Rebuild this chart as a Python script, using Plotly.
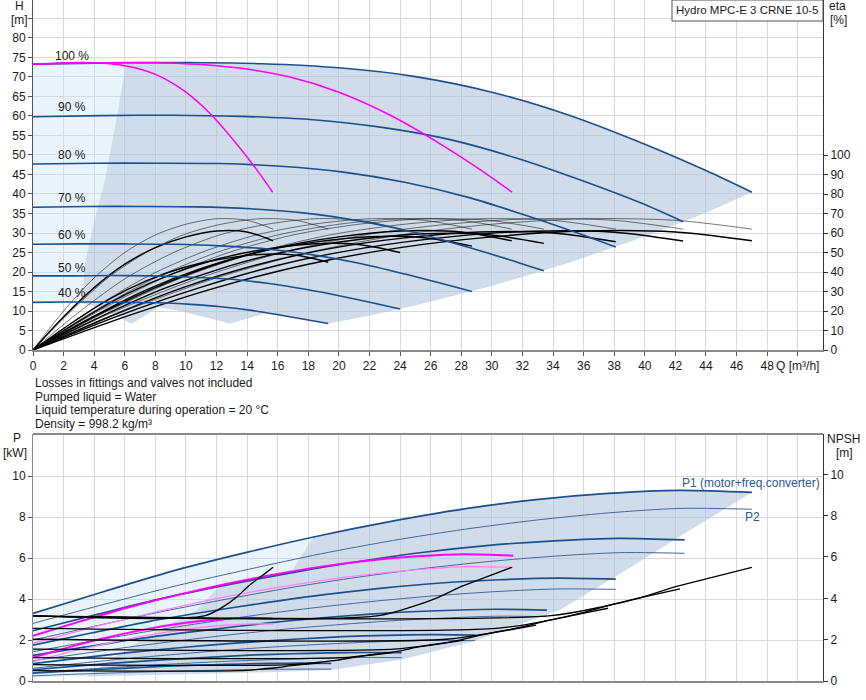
import plotly.graph_objects as go

W, H = 866, 700
FONT = "Liberation Sans, Arial, sans-serif"

# ---------------- Top chart: Q-H curves of 3 pumps at 100 % ... 40 % speed ----------------
QH_Q_100 = [0, 5, 10, 15, 20, 25, 30, 35, 40, 44, 47]
QH_H_100 = [73.3, 73.6, 73.7, 73.4, 72.35, 70.1, 66.1, 60.25, 52.75, 46.0, 40.45]
QH_Q_90 = [0, 4.5, 9.1, 13.6, 18.1, 22.6, 27.2, 31.7, 36.2, 39.8, 42.5]
QH_H_90 = [59.8, 60.1, 60.2, 59.9, 59.1, 57.2, 54.0, 49.1, 43.0, 37.6, 32.9]
QH_Q_80 = [0, 4.1, 8.1, 12.2, 16.2, 20.3, 24.3, 28.4, 32.4, 35.6, 38.1]
QH_H_80 = [47.7, 47.9, 47.9, 47.8, 47.1, 45.6, 43.0, 39.2, 34.3, 30.0, 26.4]
QH_Q_70 = [0, 3.6, 7.1, 10.7, 14.2, 17.8, 21.3, 24.9, 28.4, 31.2, 33.4]
QH_H_70 = [36.6, 36.8, 36.8, 36.7, 36.2, 35.1, 33.1, 30.2, 26.4, 23.1, 20.3]
QH_Q_60 = [0, 3.1, 6.1, 9.2, 12.2, 15.3, 18.3, 21.4, 24.4, 26.8, 28.7]
QH_H_60 = [27.1, 27.2, 27.2, 27.1, 26.7, 25.9, 24.4, 22.2, 19.4, 17.0, 15.0]
QH_Q_50 = [0, 2.6, 5.1, 7.7, 10.2, 12.8, 15.3, 17.9, 20.4, 22.4, 24.0]
QH_H_50 = [19.0, 19.0, 19.1, 19.0, 18.7, 18.2, 17.1, 15.5, 13.6, 11.9, 10.5]
QH_Q_40 = [0, 2.1, 4.1, 6.2, 8.2, 10.3, 12.3, 14.4, 16.4, 18.0, 19.3]
QH_H_40 = [12.2, 12.3, 12.3, 12.2, 12.1, 11.7, 11.1, 10.1, 8.8, 7.7, 6.8]
SPEED_LABELS = ["100 %", "90 %", "80 %", "70 %", "60 %", "50 %", "40 %"]

# 1 pump and 2 pumps at 100 % (magenta)
QH_Q_1P = [0, 1.67, 3.33, 5, 6.67, 8.33, 10, 11.67, 13.33, 14.67, 15.67]
QH_Q_2P = [0, 3.33, 6.67, 10, 13.33, 16.67, 20, 23.33, 26.67, 29.33, 31.33]
QH_H_1P2P = [73.3, 73.6, 73.7, 73.4, 72.35, 70.1, 66.1, 60.25, 52.75, 46.0, 40.45]

# Efficiency curves (eta axis): thin = pump, thick = total
ETA_PUMP = [0, 20, 37, 50, 59, 64.5, 67.3, 66.5, 62]
ETA_TOT_100 = [0, 17, 32, 44, 52.5, 58, 61, 60.5, 56]
ETA_TOT_90 = [0, 17, 32, 44, 52.4, 57.9, 60.9, 60.4, 55.9]
ETA_TOT_80 = [0, 16.8, 31.7, 43.6, 52, 57.5, 60.5, 60, 55.5]
ETA_TOT_70 = [0, 16.6, 31.3, 43, 51.3, 56.7, 59.6, 59.1, 54.7]
ETA_TOT_60 = [0, 16.2, 30.5, 41.9, 50, 55.2, 58.1, 57.6, 53.3]
ETA_TOT_50 = [0, 15.2, 28.6, 39.3, 46.9, 51.8, 54.5, 54, 50]
ETA_TOT_40 = [0, 13.7, 25.7, 35.4, 42.2, 46.6, 49, 48.6, 45]
EQ_3P100 = [0, 6, 12, 18, 24, 30, 36, 42, 47]
EQ_3P90 = [0, 5.4, 10.9, 16.3, 21.7, 27.1, 32.6, 38, 42.5]
EQ_3P80 = [0, 4.9, 9.7, 14.6, 19.4, 24.3, 29.2, 34, 38.1]
EQ_3P70 = [0, 4.3, 8.5, 12.8, 17, 21.3, 25.6, 29.8, 33.4]
EQ_3P60 = [0, 3.7, 7.3, 11, 14.6, 18.3, 22, 25.6, 28.7]
EQ_3P50 = [0, 3.1, 6.1, 9.2, 12.2, 15.3, 18.4, 21.4, 24]
EQ_3P40 = [0, 2.5, 4.9, 7.4, 9.8, 12.3, 14.8, 17.2, 19.3]
EQ_2P100 = [0, 4, 8, 12, 16, 20, 24, 28, 31.3]
EQ_1P100 = [0, 2, 4, 6, 8, 10, 12, 14, 15.7]

# Operating-range shading, top chart
TOP_LIGHT_Q = [0, 0, 5, 6.1, 5.4, 4.7, 4.0, 3.4, 3.25, 3.15, 0]
TOP_LIGHT_H = [12.2, 73.3, 73.6, 73.6, 58, 43.6, 33, 22.2, 15, 11.9, 12.2]
TOP_DARK_Q = [6.1, 10, 15, 20, 25, 30, 35, 40, 44, 47,
              44, 40, 35, 30, 25, 22, 19.3,
              18, 16.4, 15.25, 14, 12.85,
              12.0, 10.9, 9.6, 8.2, 7.5, 6.8, 6.42,
              6.0, 5.47, 4.78, 4.1, 3.42, 3.15,
              3.25, 3.4, 4.0, 4.7, 5.4, 6.1]
TOP_DARK_H = [73.6, 73.7, 73.4, 72.35, 70.1, 66.1, 60.25, 52.75, 46.0, 40.45,
              35.2, 29.1, 22.3, 16.4, 11.4, 8.8, 6.8,
              7.7, 8.8, 9.5, 8.0, 6.75,
              7.7, 8.8, 10.0, 11.05, 9.2, 7.57, 6.75,
              7.74, 8.82, 10.05, 11.09, 11.74, 11.9,
              15, 22.2, 33, 43.6, 58, 73.6]

# ---------------- Bottom chart: power P1 / P2 (3 pumps), NPSH ----------------
PQ_100 = [0, 4.7, 9.4, 14.1, 18.8, 23.5, 28.2, 32.9, 37.6, 42.3, 47]
PQ_90 = [0, 4.26, 8.52, 12.78, 17.04, 21.3, 25.56, 29.82, 34.08, 38.34, 42.6]
PQ_80 = [0, 3.81, 7.62, 11.43, 15.24, 19.05, 22.86, 26.67, 30.48, 34.29, 38.1]
PQ_70 = [0, 3.36, 6.72, 10.08, 13.44, 16.8, 20.16, 23.52, 26.88, 30.24, 33.6]
PQ_60 = [0, 2.89, 5.78, 8.67, 11.56, 14.45, 17.34, 20.23, 23.12, 26.01, 28.9]
PQ_50 = [0, 2.41, 4.82, 7.23, 9.64, 12.05, 14.46, 16.87, 19.28, 21.69, 24.1]
PQ_40 = [0, 1.95, 3.9, 5.85, 7.8, 9.75, 11.7, 13.65, 15.6, 17.55, 19.5]
PQ_2P = [0, 3.14, 6.28, 9.42, 12.56, 15.7, 18.84, 21.98, 25.12, 28.26, 31.4]
PQ_1P = [0, 1.57, 3.14, 4.71, 6.28, 7.85, 9.42, 10.99, 12.56, 14.13, 15.7]

P1_100 = [3.3, 4.38, 5.42, 6.3, 7.1, 7.8, 8.4, 8.85, 9.15, 9.3, 9.2]
P1_90 = [2.45, 3.26, 4.04, 4.70, 5.30, 5.83, 6.28, 6.62, 6.84, 6.96, 6.88]
P1_80 = [1.75, 2.34, 2.91, 3.39, 3.82, 4.21, 4.53, 4.78, 4.94, 5.02, 4.97]
P1_70 = [1.25, 1.65, 2.04, 2.37, 2.67, 2.94, 3.16, 3.33, 3.44, 3.5, 3.46]
P1_60 = [0.85, 1.10, 1.35, 1.56, 1.75, 1.91, 2.05, 2.16, 2.23, 2.26, 2.24]
P1_50 = [0.55, 0.70, 0.85, 0.97, 1.08, 1.18, 1.27, 1.33, 1.37, 1.39, 1.38]
P1_40 = [0.38, 0.47, 0.55, 0.62, 0.69, 0.75, 0.79, 0.83, 0.86, 0.87, 0.86]
P2_100 = [2.81, 3.75, 4.65, 5.45, 6.2, 6.85, 7.4, 7.85, 8.2, 8.42, 8.38]
P2_90 = [2.0, 2.71, 3.40, 4.01, 4.58, 5.07, 5.49, 5.83, 6.09, 6.26, 6.23]
P2_80 = [1.43, 1.94, 2.43, 2.87, 3.28, 3.63, 3.93, 4.18, 4.37, 4.49, 4.47]
P2_70 = [0.99, 1.35, 1.70, 2.01, 2.30, 2.55, 2.76, 2.94, 3.07, 3.16, 3.14]
P2_60 = [0.62, 0.85, 1.07, 1.26, 1.44, 1.60, 1.73, 1.84, 1.93, 1.98, 1.97]
P2_50 = [0.4, 0.53, 0.64, 0.75, 0.85, 0.94, 1.01, 1.07, 1.12, 1.15, 1.14]
P2_40 = [0.25, 0.31, 0.36, 0.41, 0.45, 0.49, 0.52, 0.55, 0.57, 0.58, 0.58]
P1_2P = [2.2, 2.92, 3.60, 4.19, 4.72, 5.18, 5.58, 5.88, 6.08, 6.18, 6.11]
P2_2P = [1.84, 2.47, 3.06, 3.60, 4.10, 4.53, 4.90, 5.20, 5.43, 5.58, 5.55]
P1_1P = [1.14, 1.48, 1.81, 2.10, 2.36, 2.59, 2.78, 2.93, 3.03, 3.08, 3.05]
P2_1P = [0.94, 1.25, 1.55, 1.81, 2.06, 2.27, 2.46, 2.61, 2.72, 2.79, 2.78]

NQ_3P100 = [0, 33.7, 37.4, 39.8, 42.2, 44.6, 47]
NQ_3P90 = [0, 30.3, 33.7, 35.8, 38.0, 40.1, 42.3]
NQ_3P80 = [0, 27.0, 29.9, 31.8, 33.8, 35.7, 37.6]
NQ_3P70 = [0, 23.6, 26.2, 27.9, 29.5, 31.2, 32.9]
NQ_3P60 = [0, 20.2, 22.4, 23.9, 25.3, 26.8, 28.2]
NQ_3P50 = [0, 16.9, 18.7, 19.9, 21.1, 22.3, 23.5]
NQ_3P40 = [0, 13.5, 15.0, 15.9, 16.9, 17.8, 18.8]
NQ_2P = [0, 22.5, 24.9, 26.5, 28.1, 29.7, 31.3]
NQ_1P = [0, 11.2, 12.5, 13.3, 14.1, 14.9, 15.7]
NPSH_100 = [3.15, 3.15, 3.62, 4.05, 4.6, 5.05, 5.5]
NPSH_90 = [2.55, 2.55, 2.93, 3.28, 3.73, 4.10, 4.46]
NPSH_80 = [2.02, 2.02, 2.32, 2.59, 2.95, 3.24, 3.52]
NPSH_70 = [1.54, 1.54, 1.77, 1.98, 2.26, 2.48, 2.7]
NPSH_60 = [1.13, 1.13, 1.30, 1.45, 1.66, 1.82, 1.98]
NPSH_50 = [0.79, 0.79, 0.91, 1.01, 1.16, 1.27, 1.38]
NPSH_40 = [0.5, 0.5, 0.58, 0.64, 0.74, 0.81, 0.88]

BOT_DARK_Q = [18.3, 20, 23.5, 28.2, 32.9, 37.6, 42.3, 47,
              42.6, 38.1, 34.4, 31, 28.9, 24.1, 19.5,
              15, 10, 5, 3.5, 5, 7.5, 10.7, 12.2, 15.7, 17.0, 18.3]
BOT_DARK_P = [7.0, 7.35, 7.8, 8.4, 8.85, 9.15, 9.3, 9.2,
              7.2, 5.1, 3.45, 2.55, 1.95, 1.05, 0.54,
              0.42, 0.33, 0.25, 0.22, 1.0, 2.2, 3.45, 4.65, 5.18, 5.45, 7.0]
BOT_LIGHT_Q = [0, 0, 4.7, 9.4, 14.1, 18.3, 17.0, 15.7, 12.2, 10.7, 7.5, 5, 3.5]
BOT_LIGHT_P = [0.2, 3.3, 4.38, 5.42, 6.3, 7.0, 5.45, 5.18, 4.65, 3.45, 2.2, 1.0, 0.22]

BLUE = "#1d4f8c"
BLUE_THIN = "#46689a"
MAG = "#ff00ff"
MAG_LIGHT = "#ff80ff"
DARK_FILL = "rgba(176,197,218,0.6)"
LIGHT_FILL = "rgba(200,225,245,0.4)"

fig = go.Figure()


def line(x, y, xa, ya, color, width, smooth=True):
    fig.add_trace(go.Scatter(
        x=x, y=y, xaxis=xa, yaxis=ya, mode="lines", hoverinfo="skip",
        line=dict(color=color, width=width, shape="spline" if smooth else "linear",
                  smoothing=0.8),
    ))


def area(x, y, xa, ya, color):
    fig.add_trace(go.Scatter(
        x=x, y=y, xaxis=xa, yaxis=ya, mode="lines", fill="toself",
        fillcolor=color, line=dict(width=0), hoverinfo="skip",
    ))


# ---- top chart ----
area(TOP_LIGHT_Q, TOP_LIGHT_H, "x", "y", LIGHT_FILL)
area(TOP_DARK_Q, TOP_DARK_H, "x", "y", DARK_FILL)

eta_sets = [(EQ_3P100, ETA_TOT_100), (EQ_3P90, ETA_TOT_90), (EQ_3P80, ETA_TOT_80),
            (EQ_3P70, ETA_TOT_70), (EQ_3P60, ETA_TOT_60), (EQ_3P50, ETA_TOT_50),
            (EQ_3P40, ETA_TOT_40), (EQ_2P100, ETA_TOT_100), (EQ_1P100, ETA_TOT_100)]
for q, e in eta_sets:
    line(q, ETA_PUMP, "x", "y2", "rgba(0,0,0,0.75)", 0.7)
for q, e in eta_sets:
    line(q, e, "x", "y2", "#000000", 1.4)

# Q-H curves on an overlay axis identical to H so they are drawn above the eta curves
qh = [(QH_Q_100, QH_H_100), (QH_Q_90, QH_H_90), (QH_Q_80, QH_H_80), (QH_Q_70, QH_H_70),
      (QH_Q_60, QH_H_60), (QH_Q_50, QH_H_50), (QH_Q_40, QH_H_40)]
for q, h in qh:
    line(q, h, "x", "y5", BLUE, 1.6)
line(QH_Q_1P, QH_H_1P2P, "x", "y5", MAG, 1.5)
line(QH_Q_2P, QH_H_1P2P, "x", "y5", MAG, 1.5)

# ---- bottom chart ----
area(BOT_LIGHT_Q, BOT_LIGHT_P, "x2", "y3", LIGHT_FILL)
area(BOT_DARK_Q, BOT_DARK_P, "x2", "y3", DARK_FILL)
pq = [PQ_100, PQ_90, PQ_80, PQ_70, PQ_60, PQ_50, PQ_40]
p1 = [P1_100, P1_90, P1_80, P1_70, P1_60, P1_50, P1_40]
p2 = [P2_100, P2_90, P2_80, P2_70, P2_60, P2_50, P2_40]
for q, p in zip(pq, p2):
    line(q, p, "x2", "y3", BLUE_THIN, 1.0)
for q, p in zip(pq, p1):
    line(q, p, "x2", "y3", BLUE, 1.7)
line(PQ_2P, P2_2P, "x2", "y3", MAG_LIGHT, 1.3)
line(PQ_2P, P1_2P, "x2", "y3", MAG, 2.0)
line(PQ_1P, P2_1P, "x2", "y3", MAG_LIGHT, 1.3)
line(PQ_1P, P1_1P, "x2", "y3", MAG, 2.0)

npsh = [(NQ_3P100, NPSH_100), (NQ_3P90, NPSH_90), (NQ_3P80, NPSH_80), (NQ_3P70, NPSH_70),
        (NQ_3P60, NPSH_60), (NQ_3P50, NPSH_50), (NQ_3P40, NPSH_40),
        (NQ_2P, NPSH_100), (NQ_1P, NPSH_100)]
for q, n in npsh:
    line(q, n, "x2", "y4", "#000000", 1.3)

# ---- axes ----
X0, X1 = 33 / W, 823 / W
QMAX = 51.65
HMAX = 89.74
tick_font = dict(family=FONT, size=12, color="#1a1a1a")
q_ticks = list(range(0, 52, 2))
q_text = [str(v) for v in q_ticks[:-1]] + ["Q [m³/h]"]

common_x = dict(range=[0, QMAX], tickmode="array", tickvals=q_ticks, showgrid=True,
                gridcolor="#d9d9d9", gridwidth=1, zeroline=False, showline=True,
                linecolor="#8a8a8a", linewidth=2, tickfont=tick_font, fixedrange=True,
                automargin=False, tickangle=0)
common_y = dict(automargin=False, zeroline=False, fixedrange=True, tickfont=tick_font,
                tickmode="array", ticks="outside", ticklen=4)

fig.update_layout(
    width=W, height=H, margin=dict(l=0, r=0, t=0, b=0, autoexpand=False), autosize=False,
    paper_bgcolor="white", plot_bgcolor="white", showlegend=False,
    font=dict(family=FONT, size=12, color="#1a1a1a"),
    xaxis=dict(domain=[X0, X1], anchor="y", ticktext=q_text, ticks="outside",
               ticklen=4, tickcolor="#555", **common_x),
    yaxis=dict(domain=[0.5, 1.0], anchor="x", range=[0, HMAX],
               tickvals=list(range(0, 90, 5)),
               ticktext=[str(v) for v in range(0, 85, 5)] + [""],
               tickcolor="#555", showgrid=True, gridcolor="#d9d9d9", showline=True,
               linecolor="#555", linewidth=1, **common_y),
    yaxis2=dict(overlaying="y", side="right", anchor="x", range=[0, 179.5],
                tickvals=list(range(0, 110, 10)), tickcolor="#333", showgrid=False,
                showline=True, linecolor="#333", linewidth=1, **common_y),
    yaxis5=dict(overlaying="y", anchor="x", range=[0, HMAX], visible=False,
                fixedrange=True, automargin=False),
    xaxis2=dict(domain=[X0, X1], anchor="y3", showticklabels=False, ticks="",
                **common_x),
    yaxis3=dict(domain=[19 / H, 266 / H], anchor="x2", range=[0, 12.05],
                tickvals=list(range(0, 12, 2)), tickcolor="#555", showgrid=True,
                gridcolor="#d9d9d9", showline=True, linecolor="#8a8a8a", linewidth=1,
                **common_y),
    yaxis4=dict(overlaying="y3", side="right", anchor="x2", range=[0, 11.95],
                tickvals=list(range(0, 12, 2)), tickcolor="#333", showgrid=False,
                showline=True, linecolor="#333", linewidth=1, **common_y),
)


def P(x, y):
    return x / W, 1 - y / H


shapes = []
fx0, fy = P(33, 434)
fx1, _ = P(823, 434)
shapes.append(dict(type="line", xref="paper", yref="paper", x0=fx0, x1=fx1, y0=fy, y1=fy,
                   line=dict(color="#8a8a8a", width=2)))
bx0, by0 = P(672, 21)
bx1, by1 = P(823, 0)
shapes.append(dict(type="rect", xref="paper", yref="paper", x0=bx0, x1=bx1, y0=by0, y1=by1,
                   line=dict(color="#555", width=1), fillcolor="white"))
fig.update_layout(shapes=shapes)

ann = []


def text(t, x, y, anchor="center", size=12, color="#1a1a1a"):
    px_, py_ = P(x, y)
    ann.append(dict(text=t, x=px_, y=py_, xref="paper", yref="paper", showarrow=False,
                    xanchor=anchor, yanchor="middle",
                    font=dict(family=FONT, size=size, color=color)))


text("Hydro MPC-E 3 CRNE 10-5", 747, 10, size=11.5)
text("H", 19, 6)
text("[m]", 19, 20)
text("eta", 837, 6)
text("[%]", 838, 20)
text("P", 17, 438)
text("[kW]", 15, 453)
text("NPSH", 843, 439)
text("[m]", 844, 453)
label_y = [56, 107, 155, 198, 235, 268, 293]
for lab, yy in zip(SPEED_LABELS, label_y):
    text(lab, 72, yy, size=12)
info = ["Losses in fittings and valves not included", "Pumped liquid = Water",
        "Liquid temperature during operation = 20 °C", "Density = 998.2 kg/m³"]
for i, t in enumerate(info):
    text(t, 33, 383 + i * 13.7, anchor="left", size=12)
text("P1 (motor+freq.converter)", 822, 483, anchor="right", size=12, color="#2a5a97")
text("P2", 752, 517, size=12, color="#2a5a97")
fig.update_layout(annotations=ann)

fig.write_html("out.html", include_plotlyjs=True, config={"displayModeBar": False})
